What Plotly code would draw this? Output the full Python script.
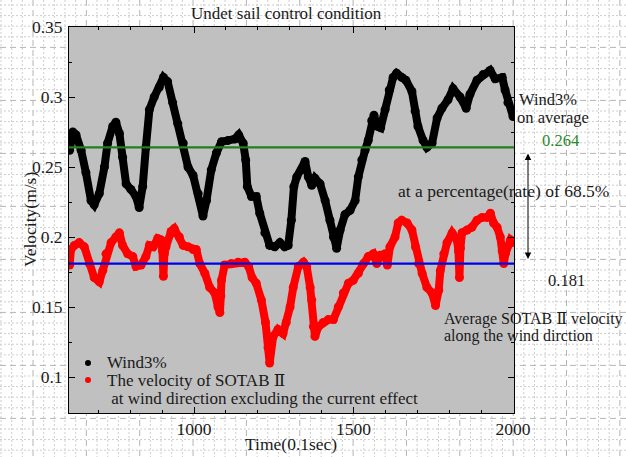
import plotly.graph_objects as go

# ---------------- data ----------------
t_wind = [610, 620, 630, 646, 661, 677, 687, 703, 719, 729,
          745, 755, 766, 776, 787, 802, 818, 828, 839, 849,
          860, 875, 891, 904, 917, 933, 949, 966, 981, 997,
          1013, 1028, 1039, 1054, 1070, 1086, 1107, 1128, 1140, 1154,
          1162, 1167, 1180, 1195, 1206, 1222, 1237, 1253, 1269, 1284,
          1295, 1305, 1313, 1322, 1337, 1348, 1358, 1369, 1379, 1395,
          1411, 1426, 1437, 1447, 1458, 1473, 1489, 1505, 1515, 1526,
          1536, 1546, 1557, 1564, 1575, 1585, 1599, 1612, 1624, 1635,
          1651, 1664, 1683, 1693, 1702, 1718, 1730, 1746, 1762, 1777,
          1796, 1812, 1834, 1853, 1865, 1887, 1906, 1928, 1944, 1966,
          1975, 1984, 2000]
v_wind = [0.262, 0.275, 0.273, 0.262, 0.246, 0.226, 0.223, 0.231, 0.250, 0.267,
          0.279, 0.282, 0.274, 0.257, 0.238, 0.234, 0.229, 0.221, 0.236, 0.264,
          0.291, 0.300, 0.307, 0.314, 0.311, 0.296, 0.281, 0.267, 0.250, 0.244,
          0.231, 0.215, 0.226, 0.248, 0.260, 0.268, 0.269, 0.270, 0.273, 0.267,
          0.255, 0.236, 0.229, 0.229, 0.217, 0.203, 0.194, 0.193, 0.196, 0.193,
          0.194, 0.212, 0.236, 0.243, 0.248, 0.254, 0.243, 0.237, 0.242, 0.238,
          0.226, 0.212, 0.200, 0.192, 0.205, 0.216, 0.219, 0.226, 0.243, 0.255,
          0.262, 0.269, 0.283, 0.287, 0.279, 0.278, 0.291, 0.305, 0.314, 0.317,
          0.314, 0.312, 0.304, 0.290, 0.279, 0.269, 0.264, 0.267, 0.285, 0.292,
          0.298, 0.306, 0.300, 0.292, 0.302, 0.312, 0.316, 0.319, 0.313, 0.314,
          0.305, 0.296, 0.286]

t_sotab = [610, 614, 625, 640, 656, 672, 687, 703, 714, 724,
           740, 755, 766, 776, 792, 808, 818, 834, 849, 860,
           872, 886, 896, 901, 904, 907, 912, 928, 938, 954,
           966, 981, 997, 1007, 1018, 1034, 1049, 1065, 1075, 1081,
           1084, 1086, 1096, 1117, 1138, 1159, 1171, 1182, 1195, 1211,
           1224, 1232, 1237, 1248, 1263, 1279, 1289, 1301, 1311, 1327,
           1343, 1353, 1364, 1369, 1374, 1379, 1390, 1405, 1421, 1437,
           1452, 1468, 1484, 1499, 1515, 1531, 1546, 1562, 1573, 1583,
           1599, 1606, 1614, 1630, 1640, 1651, 1668, 1683, 1694, 1704,
           1715, 1730, 1746, 1757, 1767, 1772, 1783, 1793, 1809, 1824,
           1829, 1832, 1835, 1840, 1856, 1871, 1887, 1903, 1918, 1929,
           1939, 1950, 1960, 1966, 1971, 1976, 1981, 1992, 2002]
v_sotab = [0.180, 0.191, 0.194, 0.196, 0.193, 0.181, 0.171, 0.168, 0.176, 0.188,
           0.196, 0.200, 0.203, 0.194, 0.188, 0.186, 0.179, 0.180, 0.186, 0.194,
           0.193, 0.199, 0.198, 0.190, 0.172, 0.188, 0.193, 0.204, 0.206, 0.200,
           0.194, 0.193, 0.191, 0.191, 0.181, 0.174, 0.164, 0.160, 0.150, 0.146,
           0.158, 0.169, 0.180, 0.181, 0.182, 0.182, 0.179, 0.171, 0.167, 0.155,
           0.139, 0.121, 0.110, 0.129, 0.134, 0.131, 0.139, 0.150, 0.164, 0.179,
           0.182, 0.179, 0.164, 0.155, 0.136, 0.129, 0.136, 0.139, 0.141, 0.141,
           0.150, 0.160, 0.167, 0.169, 0.174, 0.181, 0.186, 0.188, 0.181, 0.187,
           0.188, 0.180, 0.193, 0.200, 0.210, 0.212, 0.210, 0.205, 0.193, 0.181,
           0.174, 0.164, 0.160, 0.151, 0.162, 0.176, 0.188, 0.196, 0.203, 0.198,
           0.190, 0.171, 0.192, 0.203, 0.205, 0.207, 0.212, 0.214, 0.214, 0.217,
           0.210, 0.207, 0.200, 0.190, 0.181, 0.188, 0.193, 0.198, 0.196]

avg_wind = 0.264
avg_sotab = 0.181
ratio_text = "68.5%"

ROMAN2 = '<span style="font-family:\'DejaVu Serif\'">\u2161</span>'
title_text = "Undet sail control condition"
x_title = "Time(0.1sec)"
y_title = "Velocity(m/s)"
name_wind = "Wind3%"
name_sotab_1 = "The velocity of SOTAB " + ROMAN2
name_sotab_2 = " at wind direction excluding the current effect"

# ---------------- layout geometry ----------------
W, H = 626, 457
L, R, T, B = 69, 514, 27, 413
X_RANGE = [608, 2003]
Y_RANGE = [0.0743, 0.35]
FONT = "Liberation Serif"
TXT = "#1a1a1a"
FS = 17.5
FS_SIDE = 16.5


def xp(px):
    return (px - L) / (R - L)


def yp(py):
    return (B - py) / (B - T)


fig = go.Figure()

# data traces
fig.add_trace(go.Scatter(x=t_wind, y=v_wind, mode="lines+markers", name=name_wind,
                         line=dict(color="black", width=8),
                         marker=dict(color="black", size=9), showlegend=False))
fig.add_trace(go.Scatter(x=t_sotab, y=v_sotab, mode="lines+markers", name="SOTAB II",
                         line=dict(color="#ff0000", width=8),
                         marker=dict(color="#ff0000", size=9), showlegend=False))

# average lines
fig.add_trace(go.Scatter(x=X_RANGE, y=[avg_wind, avg_wind], mode="lines",
                         line=dict(color="#1f801f", width=2.2), showlegend=False))
fig.add_trace(go.Scatter(x=X_RANGE, y=[avg_sotab, avg_sotab], mode="lines",
                         line=dict(color="#0000e6", width=2.2), showlegend=False))

# average dots outside the plot
dot_t = X_RANGE[0] + (528 - L) / (R - L) * (X_RANGE[1] - X_RANGE[0])
fig.add_trace(go.Scatter(x=[dot_t], y=[avg_wind], mode="markers", cliponaxis=False,
                         marker=dict(color="#1f8040", size=6), showlegend=False))
fig.add_trace(go.Scatter(x=[dot_t], y=[avg_sotab], mode="markers", cliponaxis=False,
                         marker=dict(color="#0000e6", size=6), showlegend=False))

# ---------------- background graph-paper grid ----------------
shapes = []
k = 0
while True:
    px = 1 + 10.67 * k
    if px > W:
        break
    major = (k % 5 == 3)
    shapes.append(dict(type="line", xref="paper", yref="paper", layer="below",
                       x0=xp(px), x1=xp(px), y0=yp(0), y1=yp(H),
                       line=dict(color="#b4b4b4" if major else "#cdcdcd", width=1,
                                 dash="6px,4px" if major else "2px,2px")))
    k += 1
k = 0
while True:
    py = 5 + 10.6 * k
    if py > H:
        break
    major = (k % 5 == 4)
    shapes.append(dict(type="line", xref="paper", yref="paper", layer="below",
                       x0=xp(0), x1=xp(W), y0=yp(py), y1=yp(py),
                       line=dict(color="#b4b4b4" if major else "#cdcdcd", width=1,
                                 dash="6px,4px" if major else "2px,2px")))
    k += 1
# plot area fill
shapes.append(dict(type="rect", xref="paper", yref="paper", layer="below",
                   x0=0, x1=1, y0=0, y1=1, fillcolor="#c0c0c0", line=dict(width=0)))
# legend dots
for py, col in [(363, "black"), (380, "#ff0000")]:
    shapes.append(dict(type="circle", xref="paper", yref="paper",
                       x0=xp(85), x1=xp(91), y0=yp(py + 3), y1=yp(py - 3),
                       fillcolor=col, line=dict(width=0)))

# ---------------- text ----------------
ann = []


def text(s, px, py, size=FS, color=TXT, anchor="left", angle=0):
    ann.append(dict(text=s, x=xp(px), y=yp(py), xref="paper", yref="paper",
                    xanchor=anchor, yanchor="middle", showarrow=False, textangle=angle,
                    font=dict(family=FONT, size=size, color=color)))


text(title_text, 286, 13, size=17, anchor="center")
text(x_title, 291, 444, anchor="center")
text(y_title, 30, 220, anchor="center", angle=-90)
text(name_wind, 105, 362, size=17)
text(name_sotab_1, 105, 380, size=17)
text(name_sotab_2, 105, 398, size=17)
text(name_wind, 517, 99, size=FS_SIDE)
text("on average", 515, 118, size=FS_SIDE)
text(f"{avg_wind:.3f}", 540, 140, size=FS_SIDE, color="#2a8a2a")
text(f"at a percentage(rate) of {ratio_text}", 396, 191)
text(f"{avg_sotab:.3f}", 546, 280, size=FS_SIDE)
text("Average SOTAB " + ROMAN2 + " velocity", 442, 318, size=16)
text("along the wind dirction", 442, 336, size=16)

# double-headed arrow between averages
ann.append(dict(text="", x=xp(528), y=yp(259), xref="paper", yref="paper",
                ax=0, ay=-(259 - 152), showarrow=True, arrowside="end+start",
                arrowhead=2, arrowsize=1.3, arrowwidth=1, arrowcolor="black"))

axis_common = dict(showline=True, linecolor="black", linewidth=1, mirror="allticks",
                   ticks="inside", ticklen=6, tickcolor="black", showgrid=False,
                   zeroline=False, tickfont=dict(family=FONT, size=FS, color=TXT))

fig.update_layout(
    width=W, height=H,
    margin=dict(l=L, r=W - R, t=T, b=H - B),
    paper_bgcolor="white", plot_bgcolor="rgba(0,0,0,0)",
    xaxis=dict(range=X_RANGE, dtick=500, tick0=0,
               minor=dict(ticks="inside", dtick=100, ticklen=3, tickcolor="black"),
               **axis_common),
    yaxis=dict(range=Y_RANGE, dtick=0.05, tick0=0,
               minor=dict(ticks="inside", dtick=0.025, ticklen=3, tickcolor="black"),
               ticklabelstandoff=2, **axis_common),
    shapes=shapes, annotations=ann, showlegend=False,
)

fig.write_html("out.html")
